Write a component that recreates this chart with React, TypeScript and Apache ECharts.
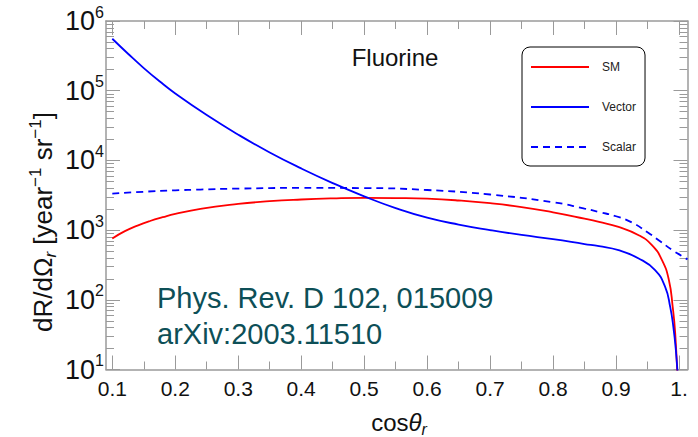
import React, { useEffect, useRef } from 'react';
import * as echarts from 'echarts';

const FONT = '"Liberation Sans", Arial, Helvetica, sans-serif';

// Axis ticks
const xTicksMajor = [0.1, 0.2, 0.3, 0.4, 0.5, 0.6, 0.7, 0.8, 0.9, 1.0];
const xTicksMinor = [0.15, 0.25, 0.35, 0.45, 0.55, 0.65, 0.75, 0.85, 0.95];
const yMinorMultipliers = [2, 3, 4, 5, 6, 7, 8, 9];

// SM (red)
const smX = [0.1, 0.12, 0.14, 0.16, 0.18, 0.2, 0.24, 0.3, 0.35, 0.4, 0.45, 0.5, 0.55, 0.6, 0.65, 0.7, 0.75, 0.8, 0.85, 0.873, 0.904, 0.936, 0.957, 0.973, 0.984, 0.99, 0.994, 0.998];
const smY = [759, 966, 1160, 1350, 1530, 1710, 2020, 2370, 2600, 2750, 2850, 2900, 2880, 2820, 2660, 2430, 2140, 1800, 1460, 1312, 1110, 845, 608, 371, 191, 79, 33, 6];

// Vector (blue solid)
const vecX = [0.1, 0.125, 0.15, 0.175, 0.2, 0.25, 0.3, 0.35, 0.4, 0.45, 0.5, 0.55, 0.6, 0.65, 0.7, 0.75, 0.8, 0.85, 0.873, 0.904, 0.936, 0.962, 0.978, 0.986, 0.991, 0.995, 0.9985];
const vecY = [556000, 339000, 211000, 136500, 91200, 44700, 23400, 13000, 7670, 4730, 3050, 2070, 1510, 1200, 1000, 851, 741, 631, 587, 515, 392, 267, 153, 79, 41, 19, 7];

// Scalar (blue dashed)
const scaX = [0.1, 0.15, 0.2, 0.24, 0.3, 0.4, 0.5, 0.6, 0.7, 0.8, 0.85, 0.873, 0.9, 0.925, 0.95, 0.97, 0.99, 1.005, 1.0135];
const scaY = [3340, 3550, 3720, 3820, 3940, 4030, 4010, 3760, 3240, 2510, 2040, 1820, 1580, 1290, 933, 692, 513, 423, 380];

const zip = (xs: number[], ys: number[]) => xs.map((x, i) => [x, ys[i]]);

export default function App() {
  const ref = useRef<HTMLDivElement>(null);
  useEffect(() => {
    document.body.style.margin = '0';
    const chart = echarts.init(ref.current!, null, { renderer: 'svg' });
    const axisColor = '#9a9a9a';
    const yMinorLog: number[] = [];
    for (let n = 1; n < 6; n++) for (const k of yMinorMultipliers) yMinorLog.push(n + Math.log10(k));

    const grid = { left: 106, right: 10.5, top: 21, bottom: 67.5, containLabel: false };
    const xBase = (position: string) => ({
      type: 'value', min: 0.09, max: 1.0135, position,
      splitLine: { show: false },
      axisLabel: { show: false },
    });
    const lineSeries = (name: string, xs: number[], ys: number[], color: string, dashed: boolean) => ({
      name, type: 'line', xAxisIndex: 0, yAxisIndex: 0, data: zip(xs, ys),
      showSymbol: false, symbol: 'none', smooth: 0.5, clip: true,
      lineStyle: { color, width: 1.8, type: dashed ? [7, 5] : 'solid' },
      itemStyle: { color },
    });
    const option: any = {
      animation: false,
      grid,
      legend: {
        data: ['SM', 'Vector', 'Scalar'],
        orient: 'vertical',
        left: 522, top: 47,
        itemWidth: 58, itemHeight: 14, itemGap: 28,
        padding: [14, 9, 13, 8],
        borderColor: '#000', borderWidth: 1, borderRadius: 8,
        itemStyle: { color: 'transparent', borderColor: 'transparent', borderWidth: 0, opacity: 0 },
        textStyle: { fontSize: 12, color: '#222', fontFamily: FONT, padding: [3, 0, 0, 8] },
      },
      xAxis: [
        {
          ...xBase('bottom'),
          axisLine: { show: true, onZero: false, lineStyle: { color: axisColor, width: 1.5 } },
          axisTick: { show: true, inside: true, length: 14, customValues: xTicksMajor, lineStyle: { color: axisColor } },
          axisLabel: {
            show: true, margin: 8, customValues: xTicksMajor, color: '#111', fontSize: 21, fontFamily: FONT,
            formatter: (v: number) => (Math.abs(v - 1) < 1e-9 ? '1.' : v.toFixed(1)),
          },
        },
        {
          ...xBase('bottom'),
          axisLine: { show: false, onZero: false },
          axisTick: { show: true, inside: true, length: 8, customValues: xTicksMinor, lineStyle: { color: axisColor } },
        },
        {
          ...xBase('top'),
          axisLine: { show: true, onZero: false, lineStyle: { color: axisColor, width: 1.5 } },
          axisTick: { show: true, inside: true, length: 14, customValues: xTicksMajor, lineStyle: { color: axisColor } },
        },
        {
          ...xBase('top'),
          axisLine: { show: false, onZero: false },
          axisTick: { show: true, inside: true, length: 8, customValues: xTicksMinor, lineStyle: { color: axisColor } },
        },
      ],
      yAxis: [
        {
          type: 'log', logBase: 10, min: 10, max: 1e6, position: 'left', splitNumber: 5,
          splitLine: { show: false },
          axisLine: { show: true, onZero: false, lineStyle: { color: axisColor, width: 1.5 } },
          axisTick: { show: true, inside: true, length: 14, lineStyle: { color: axisColor } },
          axisLabel: {
            show: true, margin: 2, showMinLabel: true, showMaxLabel: true,
            formatter: (v: number) => `{b|10}{s|${Math.round(Math.log10(v))}}`,
            rich: {
              b: { fontSize: 27, fontFamily: FONT, color: '#111', lineHeight: 34 },
              s: { fontSize: 16, fontFamily: FONT, color: '#111', verticalAlign: 'top', lineHeight: 16 },
            },
          },
        },
        {
          type: 'value', min: 1, max: 6, position: 'left',
          splitLine: { show: false }, axisLabel: { show: false },
          axisLine: { show: false, onZero: false },
          axisTick: { show: true, inside: true, length: 8, customValues: yMinorLog, lineStyle: { color: axisColor } },
        },
        {
          type: 'log', logBase: 10, min: 10, max: 1e6, position: 'right', splitNumber: 5,
          splitLine: { show: false }, axisLabel: { show: false },
          axisLine: { show: true, onZero: false, lineStyle: { color: axisColor, width: 1.5 } },
          axisTick: { show: true, inside: true, length: 14, lineStyle: { color: axisColor } },
        },
        {
          type: 'value', min: 1, max: 6, position: 'right',
          splitLine: { show: false }, axisLabel: { show: false },
          axisLine: { show: false, onZero: false },
          axisTick: { show: true, inside: true, length: 8, customValues: yMinorLog, lineStyle: { color: axisColor } },
        },
      ],
      series: [
        lineSeries('SM', smX, smY, '#ff0000', false),
        lineSeries('Vector', vecX, vecY, '#0000ff', false),
        lineSeries('Scalar', scaX, scaY, '#0000ff', true),
      ],
      graphic: [
        {
          type: 'text', x: 395, y: 57,
          style: { text: 'Fluorine', fontSize: 24, fontFamily: FONT, fill: '#111', align: 'center', verticalAlign: 'middle' },
        },
        {
          type: 'text', x: 157, y: 297.5,
          style: { text: 'Phys. Rev. D 102, 015009', fontSize: 29, fontFamily: FONT, fill: '#0d4f57', align: 'left', verticalAlign: 'middle' },
        },
        {
          type: 'text', x: 157, y: 333.5,
          style: { text: 'arXiv:2003.11510', fontSize: 29, fontFamily: FONT, fill: '#0d4f57', align: 'left', verticalAlign: 'middle' },
        },
        {
          type: 'text', x: 43, y: 222, rotation: Math.PI / 2,
          style: {
            text: '{a|dR/dΩ}{r|r}{a| [year}{p|−1}{a| sr}{p|−1}{a|]}',
            align: 'center', verticalAlign: 'middle',
            rich: {
              a: { fontSize: 26, fontFamily: FONT, fill: '#111', lineHeight: 32 },
              r: { fontSize: 17, fontFamily: FONT, fill: '#111', fontStyle: 'italic', verticalAlign: 'bottom', lineHeight: 17 },
              p: { fontSize: 17, fontFamily: FONT, fill: '#111', verticalAlign: 'top', lineHeight: 17 },
            },
          },
        },
        {
          type: 'text', x: 399, y: 422,
          style: {
            text: '{a|cos}{t|θ}{r|r}',
            align: 'center', verticalAlign: 'middle',
            rich: {
              a: { fontSize: 24, fontFamily: FONT, fill: '#111', lineHeight: 30 },
              t: { fontSize: 24, fontFamily: FONT, fill: '#111', fontStyle: 'italic', lineHeight: 30 },
              r: { fontSize: 16, fontFamily: FONT, fill: '#111', fontStyle: 'italic', verticalAlign: 'bottom', lineHeight: 16 },
            },
          },
        },
      ],
    };
    chart.setOption(option);
    return () => chart.dispose();
  }, []);
  return <div ref={ref} style={{ position: 'absolute', left: 0, top: 0, width: 698, height: 437 }} />;
}
